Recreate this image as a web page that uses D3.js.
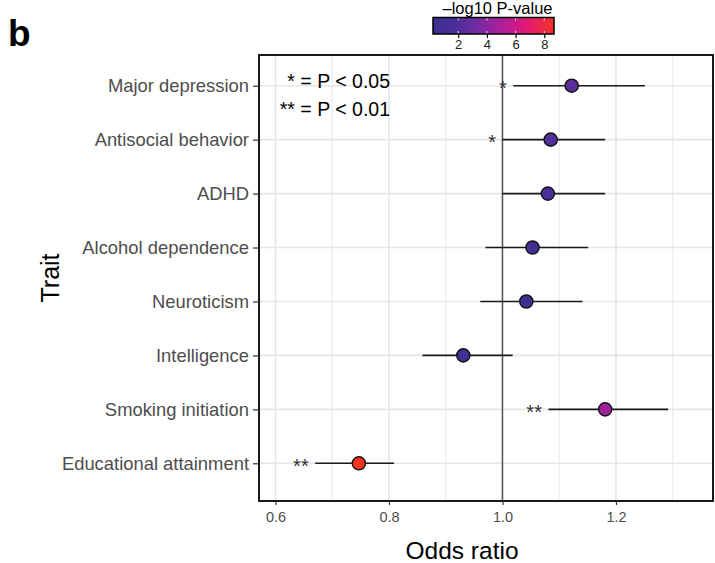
<!DOCTYPE html>
<html>
<head>
<meta charset="utf-8">
<script src="https://cdn.jsdelivr.net/npm/d3@7"></script>
<style>
  html, body { margin: 0; padding: 0; background: #fff; }
  svg { display: block; font-family: "Liberation Sans", Arial, Helvetica, sans-serif; }
</style>
</head>
<body>
<svg id="chart" width="715" height="563"></svg>
<script>
// ---- data ----
const traits = ["Major depression", "Antisocial behavior", "ADHD", "Alcohol dependence",
                "Neuroticism", "Intelligence", "Smoking initiation", "Educational attainment"];
const oddsRatio = [1.122, 1.085, 1.080, 1.053, 1.042, 0.931, 1.181, 0.747];
const ciLower   = [1.019, 1.000, 1.000, 0.970, 0.961, 0.859, 1.081, 0.670];
const ciUpper   = [1.251, 1.181, 1.181, 1.151, 1.141, 1.018, 1.292, 0.809];
const negLog10P = [2.4, 2.1, 1.9, 1.1, 0.24, 0.9, 4.6, 8.68];
const significance = ["*", "*", "", "", "", "", "**", "**"];
const xMajorTicks = [0.6, 0.8, 1.0, 1.2];
const xMinorTicks = [0.7, 0.9, 1.1, 1.3];
const colorTicks = [2, 4, 6, 8];
const legendLines = ["* = P < 0.05", "** = P < 0.01"];

const rows = traits.map((t, i) => ({
  trait: t, or: oddsRatio[i], lo: ciLower[i], hi: ciUpper[i], p: negLog10P[i], sig: significance[i]
}));

const svg = d3.select("#chart");
const panel = { left: 259, right: 713, top: 55, bottom: 501 };

const x = d3.scaleLinear().domain([0.571, 1.371]).range([panel.left, panel.right]);
const y = d3.scalePoint().domain(traits).range([85.7, 463.3]);
const pExtent = d3.extent(negLog10P);
const color = d3.scaleLinear()
  .domain([pExtent[0], 2, 3, 4, 5, 6, 7, 8, pExtent[1]])
  .range(["#3a3090", "#4f2f9a", "#692ca0", "#8b26a1", "#ad1f98", "#cd198a", "#e51b6c", "#ef2a44", "#f1331f"]);

// ---- grid ----
const grid = svg.append("g");
grid.selectAll("line.minor").data(xMinorTicks).join("line")
  .attr("x1", d => x(d)).attr("x2", d => x(d))
  .attr("y1", panel.top).attr("y2", panel.bottom)
  .attr("stroke", "#ebebeb").attr("stroke-width", 1.2);
grid.selectAll("line.majorx").data(xMajorTicks).join("line")
  .attr("x1", d => x(d)).attr("x2", d => x(d))
  .attr("y1", panel.top).attr("y2", panel.bottom)
  .attr("stroke", "#e6e6e6").attr("stroke-width", 1.6);
grid.selectAll("line.majory").data(traits).join("line")
  .attr("x1", panel.left).attr("x2", panel.right)
  .attr("y1", d => y(d)).attr("y2", d => y(d))
  .attr("stroke", "#e6e6e6").attr("stroke-width", 1.6);

// reference line at OR = 1
svg.append("line")
  .attr("x1", x(1)).attr("x2", x(1))
  .attr("y1", panel.top).attr("y2", panel.bottom)
  .attr("stroke", "#555").attr("stroke-width", 1.5);

// ---- CI lines ----
svg.append("g").selectAll("line").data(rows).join("line")
  .attr("x1", d => x(d.lo)).attr("x2", d => x(d.hi))
  .attr("y1", d => y(d.trait)).attr("y2", d => y(d.trait))
  .attr("stroke", "#1a1a1a").attr("stroke-width", 1.6);

// ---- points ----
svg.append("g").selectAll("circle").data(rows).join("circle")
  .attr("cx", d => x(d.or)).attr("cy", d => y(d.trait))
  .attr("r", 6.6)
  .attr("fill", d => color(d.p))
  .attr("stroke", "#111").attr("stroke-width", 1.4);

// ---- significance stars ----
svg.append("g").selectAll("text").data(rows.filter(d => d.sig)).join("text")
  .attr("x", d => x(d.lo) - 6.5)
  .attr("y", d => y(d.trait) + 9.5)
  .attr("text-anchor", "end")
  .attr("font-size", 20)
  .attr("fill", "#333")
  .text(d => d.sig);

// ---- legend annotation ----
svg.append("g").selectAll("text").data(legendLines).join("text")
  .attr("x", 390)
  .attr("y", (d, i) => 88 + i * 28)
  .attr("text-anchor", "end")
  .attr("font-size", 19.5)
  .attr("fill", "#000")
  .text(d => d);

// ---- panel border ----
svg.append("rect")
  .attr("x", panel.left).attr("y", panel.top)
  .attr("width", panel.right - panel.left).attr("height", panel.bottom - panel.top)
  .attr("fill", "none").attr("stroke", "#000").attr("stroke-width", 1.8);

// ---- axes ----
const xAxis = svg.append("g")
  .attr("transform", `translate(0,${panel.bottom})`)
  .call(d3.axisBottom(x).tickValues(xMajorTicks).tickFormat(d3.format(".1f")).tickSize(4).tickPadding(7));
xAxis.select(".domain").remove();
xAxis.selectAll(".tick line").attr("stroke", "#333").attr("stroke-width", 1.2);
xAxis.selectAll(".tick text").attr("fill", "#4d4d4d").attr("font-size", 14.5)
  .attr("font-family", "Liberation Sans, Arial, sans-serif");

const yAxis = svg.append("g")
  .attr("transform", `translate(${panel.left},0)`)
  .call(d3.axisLeft(y).tickSize(6).tickPadding(4));
yAxis.select(".domain").remove();
yAxis.selectAll(".tick line").attr("stroke", "#333").attr("stroke-width", 1.2);
yAxis.selectAll(".tick text").attr("fill", "#4d4d4d").attr("font-size", 18.4)
  .attr("font-family", "Liberation Sans, Arial, sans-serif");

// axis titles
svg.append("text")
  .attr("x", (panel.left + panel.right) / 2 - 24).attr("y", 559)
  .attr("text-anchor", "middle").attr("font-size", 24.5).attr("fill", "#000")
  .text("Odds ratio");
svg.append("text")
  .attr("transform", `translate(59,${(panel.top + panel.bottom) / 2}) rotate(-90)`)
  .attr("text-anchor", "middle").attr("font-size", 25).attr("fill", "#000")
  .text("Trait");

// panel label
svg.append("text")
  .attr("x", 8).attr("y", 46)
  .attr("font-size", 37).attr("font-weight", "bold").attr("fill", "#000")
  .text("b");

// ---- colour bar ----
const cb = { x0: 433, x1: 554, y0: 17.5, y1: 34 };
const cx = d3.scaleLinear().domain(pExtent).range([cb.x0, cb.x1]);
const defs = svg.append("defs");
const grad = defs.append("linearGradient").attr("id", "pgrad")
  .attr("x1", "0%").attr("x2", "100%").attr("y1", "0%").attr("y2", "0%");
d3.range(0, 1.0001, 0.025).forEach(t => {
  grad.append("stop").attr("offset", `${t * 100}%`)
    .attr("stop-color", color(pExtent[0] + t * (pExtent[1] - pExtent[0])));
});
svg.append("rect")
  .attr("x", cb.x0).attr("y", cb.y0).attr("width", cb.x1 - cb.x0).attr("height", cb.y1 - cb.y0)
  .attr("fill", "url(#pgrad)");
// white inner ticks
svg.append("g").selectAll("line").data(colorTicks).join("line")
  .attr("x1", d => cx(d)).attr("x2", d => cx(d))
  .attr("y1", cb.y0).attr("y2", cb.y0 + 3)
  .attr("stroke", "#fff").attr("stroke-width", 1).attr("opacity", 0.8);
svg.append("g").selectAll("line").data(colorTicks).join("line")
  .attr("x1", d => cx(d)).attr("x2", d => cx(d))
  .attr("y1", cb.y1 - 3).attr("y2", cb.y1)
  .attr("stroke", "#fff").attr("stroke-width", 1).attr("opacity", 0.8);
svg.append("rect")
  .attr("x", cb.x0).attr("y", cb.y0).attr("width", cb.x1 - cb.x0).attr("height", cb.y1 - cb.y0)
  .attr("fill", "none").attr("stroke", "#000").attr("stroke-width", 1.5);
const cAxis = svg.append("g")
  .attr("transform", `translate(0,${cb.y1})`)
  .call(d3.axisBottom(cx).tickValues(colorTicks).tickSize(4).tickPadding(2));
cAxis.select(".domain").remove();
cAxis.selectAll(".tick line").attr("stroke", "#000").attr("stroke-width", 1.2);
cAxis.selectAll(".tick text").attr("fill", "#222").attr("font-size", 13)
  .attr("font-family", "Liberation Sans, Arial, sans-serif");
svg.append("text")
  .attr("x", (cb.x0 + cb.x1) / 2 + 4).attr("y", 13.5)
  .attr("text-anchor", "middle").attr("font-size", 16.5).attr("fill", "#000")
  .text("\u2013log10 P-value");
</script>
</body>
</html>
